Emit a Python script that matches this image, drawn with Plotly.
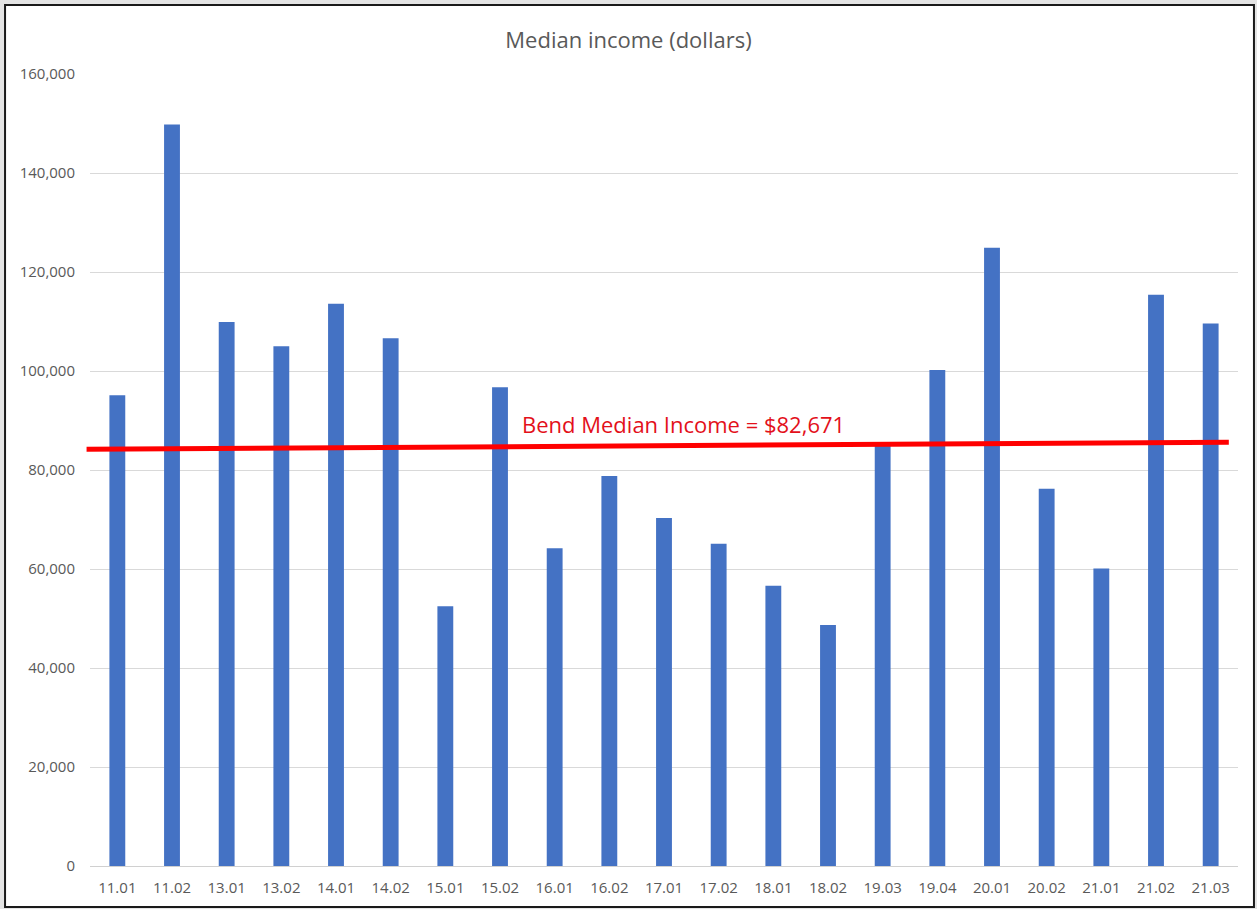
import plotly.graph_objects as go

categories = ["11.01", "11.02", "13.01", "13.02", "14.01", "14.02", "15.01", "15.02",
              "16.01", "16.02", "17.01", "17.02", "18.01", "18.02", "19.03", "19.04",
              "20.01", "20.02", "21.01", "21.02", "21.03"]
median_income = [95100, 149800, 109900, 105000, 113600, 106600, 52500, 96700,
                 64200, 78800, 70300, 65100, 56600, 48700, 85200, 100200,
                 124900, 76200, 60100, 115400, 109600]
bend_line_y = [84200, 85600]
bend_label = "Bend Median Income = $82,671"
title_text = "Median income (dollars)"
y_ticks = [0, 20000, 40000, 60000, 80000, 100000, 120000, 140000, 160000]

FONT = "Open Sans"
GRAY = "#595959"

fig = go.Figure()
fig.add_trace(go.Bar(
    x=categories, y=median_income,
    marker=dict(color="#4472C4", line=dict(width=0)),
    hoverinfo="x+y",
))

# outer frame
fig.add_shape(type="rect", xref="paper", yref="paper",
              x0=-0.074, x1=1.0139, y0=-0.0518, y1=1.0871,
              line=dict(color="#1a1a1a", width=2), fillcolor="white", layer="below")

# bend median line
fig.add_shape(type="line", xref="paper", yref="y",
              x0=-0.003, x1=0.992, y0=bend_line_y[0], y1=bend_line_y[1],
              line=dict(color="#ff0000", width=5), layer="above")

fig.add_annotation(xref="paper", yref="y", x=0.3746, y=89300,
                   xanchor="left", yanchor="middle", showarrow=False,
                   text=bend_label, font=dict(family=FONT, size=22, color="#e3101a"))

fig.update_layout(
    width=1257, height=909,
    margin=dict(l=90, r=19, t=74, b=43),
    paper_bgcolor="#e4e4e4", plot_bgcolor="rgba(0,0,0,0)",
    showlegend=False,
    bargap=0.71,
    font=dict(family=FONT, color=GRAY),
    title=dict(text=title_text, x=0.5, xref="container", xanchor="center",
               y=1 - 40 / 909, yanchor="middle", yref="container",
               font=dict(family=FONT, size=22, color=GRAY)),
)
fig.update_xaxes(
    type="category", range=[-0.5, 20.5], showgrid=False, zeroline=False,
    showline=False, ticks="", tickfont=dict(family=FONT, size=15, color=GRAY),
    ticklabelstandoff=11,
)
fig.update_yaxes(
    range=[0, 160000], tickvals=y_ticks, tickformat=",d",
    showgrid=True, gridcolor="#d9d9d9", gridwidth=1,
    zeroline=True, zerolinecolor="#d0d0d0", zerolinewidth=1,
    showline=False, ticks="", tickfont=dict(family=FONT, size=15, color=GRAY),
    ticklabelstandoff=14,
)

fig.write_html("out.html", config={"displayModeBar": False})

with open("out.html", "r", encoding="utf-8") as f:
    html = f.read()
html = html.replace("<body>", '<body style="margin:0;padding:0;overflow:hidden">', 1)
with open("out.html", "w", encoding="utf-8") as f:
    f.write(html)
